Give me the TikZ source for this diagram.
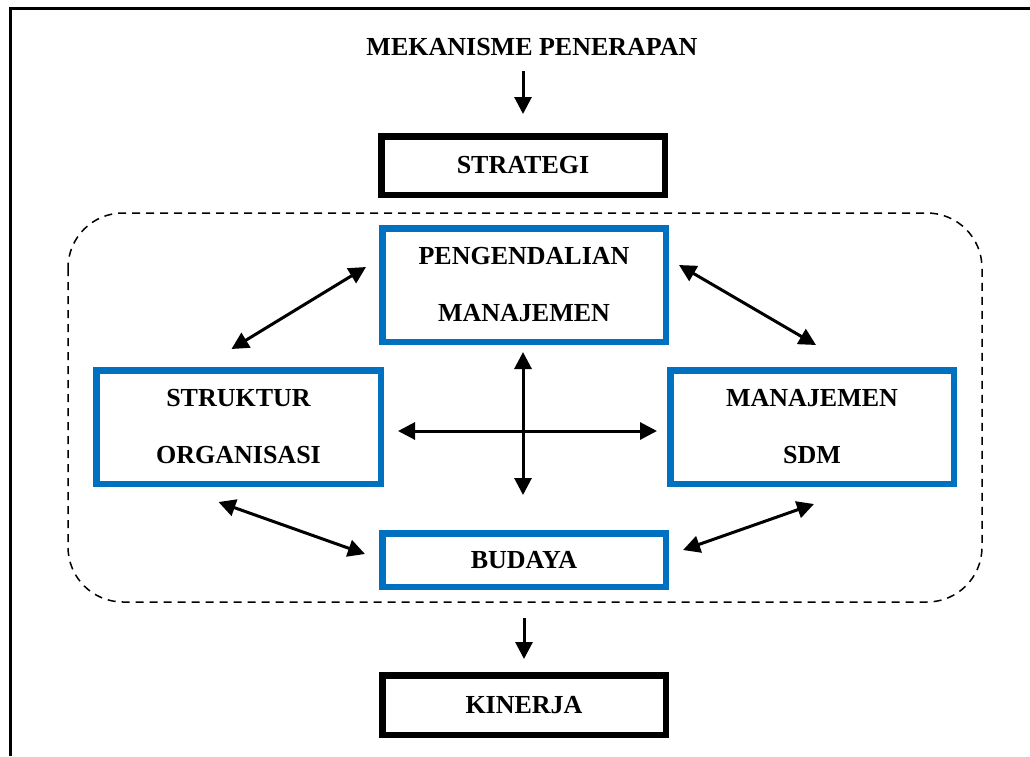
\documentclass[tikz,border=0pt]{standalone}
\usepackage{fontspec}
\setmainfont{Liberation Serif}
\usetikzlibrary{arrows.meta,positioning,calc}
\definecolor{sdmblue}{HTML}{0070C0}

\begin{document}
\begin{tikzpicture}[
  x=1pt,y=-1pt,
  txt/.style={font=\fontsize{26}{57}\selectfont\bfseries,align=center,inner sep=0pt},
  outerbox/.style={txt,draw=black,line width=6.5pt,minimum width=283.5pt},
  innerbox/.style={txt,draw=sdmblue,line width=6.5pt,minimum width=283.5pt},
  arrow/.style={-{Triangle[length=17pt,width=17pt]},line width=3pt},
  dbl/.style={{Triangle[length=17pt,width=17pt]}-{Triangle[length=17pt,width=17pt]},line width=3pt}
]
\useasboundingbox (0,0) rectangle (1030,756);
\draw[line width=2.7pt] (10.5,756) |- (1030,8.7);

% the dashed frame round the four elements
\draw[dash pattern=on 8pt off 6pt,line width=1.5pt,rounded corners=55pt]
  (68,213) rectangle (982,602);

\node[txt] (mekanisme) at (532,47) {MEKANISME PENERAPAN};
\node[outerbox,minimum height=58.5pt] (strategi) at (523,165.5) {STRATEGI};
\node[innerbox,minimum height=113.5pt] (pengendalian) at (524,285) {PENGENDALIAN\\MANAJEMEN};
\node[innerbox,minimum width=284.5pt,minimum height=113.5pt] (struktur) at (238.5,427) {STRUKTUR\\ORGANISASI};
\node[innerbox,minimum height=113.5pt] (sdm) at (812,427) {MANAJEMEN\\SDM};
\node[innerbox,minimum height=53.5pt] (budaya) at (524,560) {BUDAYA};
\node[outerbox,minimum height=59.5pt] (kinerja) at (524,705) {KINERJA};

\draw[arrow,shorten <=15pt,shorten >=19pt] (mekanisme.south -| strategi.north) -- (strategi.north);
\draw[arrow,shorten <=28pt,shorten >=13pt] (budaya.south) -- (kinerja.north);

\draw[dbl] ($(struktur.north)+(-7,-18)$) -- ($(pengendalian.west)+(-13,-18)$);
\draw[dbl] ($(pengendalian.east)+(10,-20)$) -- ($(sdm.north)+(4,-22)$);
\draw[dbl] ($(struktur.south)+(-20,15)$) -- ($(budaya.west)+(-14,-6)$);
\draw[dbl] ($(budaya.east)+(14,-10)$) -- ($(sdm.south)+(2,17)$);
\draw[dbl,shorten <=7pt,shorten >=35pt] ($(pengendalian.south)+(-1,0)$) -- ($(budaya.north)+(-1,0)$);
\draw[dbl] ($(struktur.east)+(14,4)$) -- ($(sdm.west)+(-10,4)$);
\end{tikzpicture}
\end{document}
